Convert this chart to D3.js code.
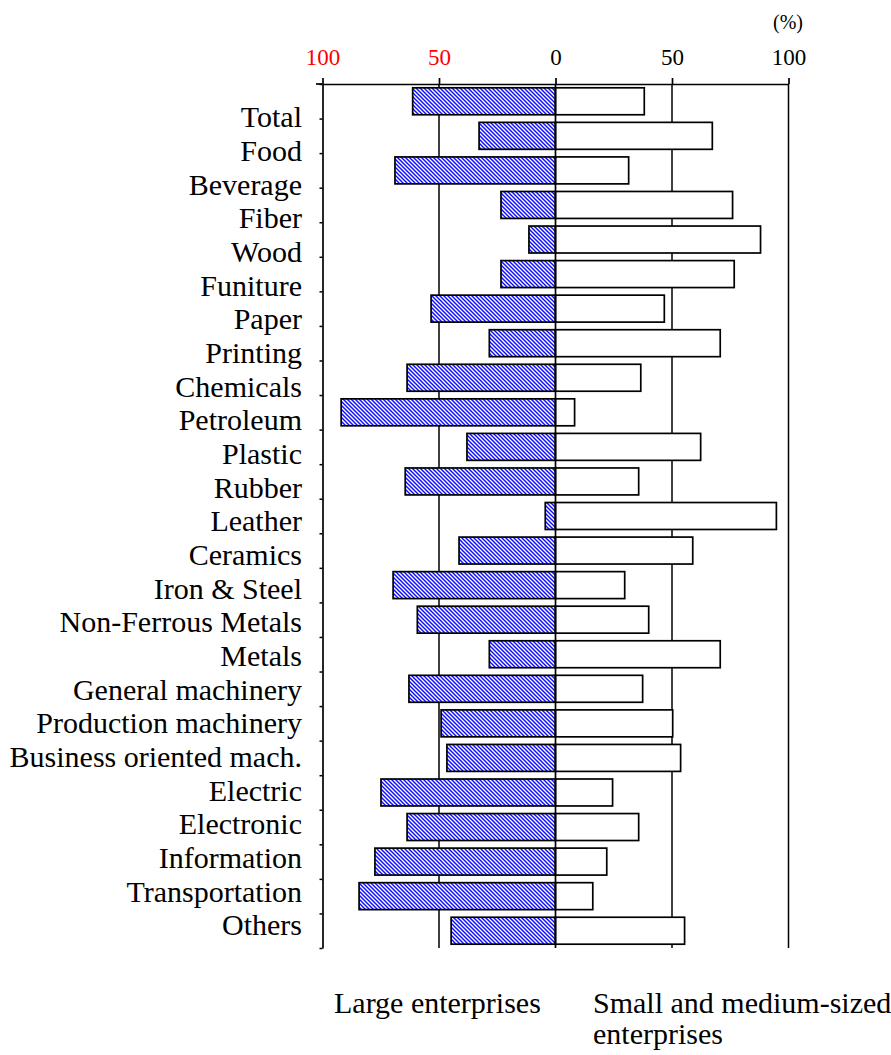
<!DOCTYPE html>
<html>
<head>
<meta charset="utf-8">
<script src="https://cdn.jsdelivr.net/npm/d3@7"></script>
<style>
  html, body { margin: 0; padding: 0; background: #fff; }
  svg { display: block; }
  svg text { font-family: "Liberation Serif", "Times New Roman", Tinos, "DejaVu Serif", serif !important; }
</style>
</head>
<body>
<div id="chart"></div>
<script>
const categories = ["Total","Food","Beverage","Fiber","Wood","Funiture","Paper","Printing","Chemicals","Petroleum","Plastic","Rubber","Leather","Ceramics","Iron & Steel","Non-Ferrous Metals","Metals","General machinery","Production machinery","Business oriented mach.","Electric","Electronic","Information","Transportation","Others"];
const largeValues = [61.3, 32.8, 68.9, 23.4, 11.4, 23.4, 53.4, 28.4, 63.7, 92.0, 38.0, 64.5, 4.4, 41.4, 69.7, 59.3, 28.4, 62.9, 49.1, 46.6, 74.9, 63.7, 77.5, 84.3, 44.8];
const smeValues = [38.1, 67.3, 31.4, 76.0, 88.0, 76.7, 46.7, 70.7, 36.6, 8.2, 62.3, 35.7, 94.8, 58.9, 29.7, 40.0, 70.7, 37.4, 50.3, 53.7, 24.5, 35.7, 22.0, 16.0, 55.4];
const tickValues = [-100, -50, 0, 50, 100];
const gridValues = [-50, 0, 50, 100];
const legendLabels = ["Large enterprises", "Small and medium-sized", "enterprises"];
const unitLabel = "(%)";

const SERIF = "'Liberation Serif', 'Times New Roman', Tinos, 'DejaVu Serif', serif";
const W = 891, H = 1055;
const plotTop = 84, plotBottom = 948, plotLeft = 322.5, plotRight = 788.5;

const svg = d3.select("#chart").append("svg").attr("width", W).attr("height", H)
  .attr("font-family", SERIF);

const defs = svg.append("defs");
const pat = defs.append("pattern").attr("id", "hatch").attr("patternUnits", "userSpaceOnUse")
  .attr("width", 4).attr("height", 4);
pat.append("rect").attr("width", 4).attr("height", 4).attr("fill", "#fff");
pat.append("path").attr("d", "M-1,-1 L5,5 M3,-1 L5,1 M-1,3 L1,5")
  .attr("stroke", "#1010ff").attr("stroke-width", 1.5);

const x = d3.scaleLinear().domain([-100, 100]).range([plotLeft, plotRight]);
const y = d3.scaleBand().domain(categories).range([plotTop, plotBottom]).paddingInner(0.22).paddingOuter(0.11);
const yLabel = d3.scalePoint().domain(categories).range([127.3, 935.4]);
const yEdge = d3.scaleLinear().domain([0, categories.length]).range([plotTop, plotBottom]);

// gridlines
svg.append("g").selectAll("line").data(gridValues.filter(d => d !== 0)).join("line")
  .attr("x1", d => x(d)).attr("x2", d => x(d)).attr("y1", plotTop).attr("y2", plotBottom)
  .attr("stroke", "#000").attr("stroke-width", 1.5);

// bars
const rows = categories.map((c, i) => ({c, l: largeValues[i], s: smeValues[i]}));
svg.append("g").selectAll("rect").data(rows).join("rect")
  .attr("x", d => x(-d.l)).attr("width", d => x(0) - x(-d.l))
  .attr("y", d => y(d.c)).attr("height", y.bandwidth())
  .attr("fill", "url(#hatch)").attr("stroke", "#000").attr("stroke-width", 1.7);
svg.append("g").selectAll("rect").data(rows).join("rect")
  .attr("x", x(0)).attr("width", d => x(d.s) - x(0))
  .attr("y", d => y(d.c)).attr("height", y.bandwidth())
  .attr("fill", "#fff").attr("stroke", "#000").attr("stroke-width", 1.7);

// zero line on top
svg.append("line").attr("x1", x(0)).attr("x2", x(0)).attr("y1", plotTop).attr("y2", plotBottom)
  .attr("stroke", "#000").attr("stroke-width", 1.7);

// top axis
const ax = svg.append("g").attr("transform", `translate(0,${plotTop})`)
  .call(d3.axisTop(x).tickValues(tickValues).tickFormat(d => Math.abs(d)).tickSize(6).tickSizeOuter(0).tickPadding(13));
ax.attr("font-family", SERIF).attr("font-size", 23);
ax.select(".domain").attr("stroke-width", 1.7);
ax.selectAll(".tick line").attr("stroke-width", 1.7);
ax.selectAll(".tick text")
  .style("font-family", SERIF)
  .attr("font-size", 23)
  .attr("fill", d => d < 0 ? "#ff0000" : "#000");
svg.append("line").attr("x1", 316).attr("x2", plotLeft).attr("y1", plotTop).attr("y2", plotTop)
  .attr("stroke", "#000").attr("stroke-width", 1.7);

// left axis with boundary ticks
const la = svg.append("g").attr("transform", `translate(${plotLeft},0)`)
  .call(d3.axisLeft(yEdge).tickValues(d3.range(0, categories.length + 1)).tickFormat("").tickSize(3).tickSizeOuter(0));
la.select(".domain").attr("stroke-width", 1.7);
la.selectAll(".tick line").attr("stroke-width", 1.5);

// category labels
svg.append("g").selectAll("text").data(categories).join("text")
  .attr("x", 302).attr("y", d => yLabel(d))
  .attr("text-anchor", "end").attr("font-size", 30).attr("fill", "#000")
  .style("font-family", SERIF)
  .text(d => d);

// unit label
svg.append("text").attr("x", 788).attr("y", 29).attr("text-anchor", "middle")
  .attr("font-size", 20).style("font-family", SERIF).text(unitLabel);

// legend labels
svg.append("text").attr("x", 334).attr("y", 1013).attr("font-size", 30).style("font-family", SERIF).text(legendLabels[0]);
svg.append("text").attr("x", 593).attr("y", 1013).attr("font-size", 30).style("font-family", SERIF).text(legendLabels[1]);
svg.append("text").attr("x", 593).attr("y", 1044).attr("font-size", 30).style("font-family", SERIF).text(legendLabels[2]);
</script>
</body>
</html>
